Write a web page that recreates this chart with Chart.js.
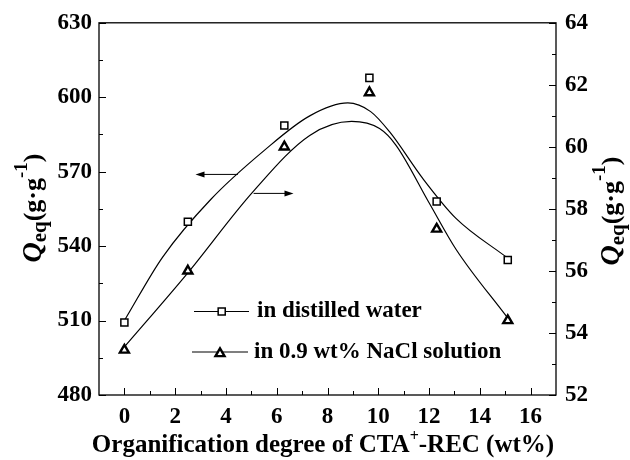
<!DOCTYPE html>
<html><head><meta charset="utf-8">
<script src="https://cdn.jsdelivr.net/npm/chart.js@4.4.0/dist/chart.umd.min.js"></script>
<style>html,body{margin:0;padding:0;background:#fff}#wrap{width:630px;height:460px;position:relative}</style>
</head><body><div id="wrap"><canvas id="c" width="630" height="460"></canvas></div>
<script>
// ---- data ----
const waterX = [0, 2.5, 6.3, 9.65, 12.3, 15.1];
const waterQ = [509.2, 549.8, 588.6, 607.8, 558.0, 534.4];
const salineX = [0, 2.5, 6.3, 9.65, 12.3, 15.1];
const salineQ = [53.45, 56.0, 60.0, 61.75, 57.35, 54.4];
// fitted curves
const waterFitX = [0, 1.5, 3.4, 5.5, 7.3, 8.8, 9.7, 10.45, 11.75, 13.05, 15.08];
const waterFitQ = [510, 535.5, 558.8, 578.5, 592.5, 597.7, 594.2, 586, 567.3, 551.3, 535.3];
const salineFitX = [0, 2.45, 5.07, 7.3, 8.95, 10.05, 10.7, 12.0, 13.06, 15.08];
const salineFitQ = [53.55, 55.89, 58.56, 60.37, 60.82, 60.59, 60.05, 58.2, 56.7, 54.5];
const xTicks = [0, 2, 4, 6, 8, 10, 12, 14, 16];
const xMinor = [1, 3, 5, 7, 9, 11, 13, 15];
const leftTicks = [480, 510, 540, 570, 600, 630];
const leftMinor = [495, 525, 555, 585, 615];
const rightTicks = [52, 54, 56, 58, 60, 62, 64];
const rightMinor = [53, 55, 57, 59, 61, 63];
const legendLabels = ['in distilled water', 'in 0.9 wt% NaCl solution'];
const xTitle = ['Organification degree of CTA', '+', '-REC (wt%)'];
// arrows: [x1, y1, x2, y2] in data units, axis id
const arrowLeft = {axis: 'y', pts: [4.47, 568.9, 2.8, 568.9]};
const arrowRight = {axis: 'y2', pts: [5.09, 58.5, 6.66, 58.5]};

const FF = '"Liberation Serif", "Times New Roman", serif';
const toPts = (xs, ys) => xs.map((v, i) => ({x: v, y: ys[i]}));

const deco = {
  id: 'deco',
  afterDraw(chart) {
    const {ctx, chartArea: a, scales} = chart;
    const {x, y, y2} = scales;
    ctx.save();
    ctx.strokeStyle = '#000';
    ctx.lineWidth = 1.3;
    ctx.strokeRect(a.left, a.top, a.right - a.left, a.bottom - a.top);
    ctx.lineWidth = 1;
    ctx.beginPath();
    const tx = (vals, len) => vals.forEach(v => { const p = Math.round(x.getPixelForValue(v)) + 0.5; ctx.moveTo(p, a.bottom); ctx.lineTo(p, a.bottom - len); });
    const tl = (vals, len) => vals.forEach(v => { const p = Math.round(y.getPixelForValue(v)) + 0.5; ctx.moveTo(a.left, p); ctx.lineTo(a.left + len, p); });
    const tr = (vals, len) => vals.forEach(v => { const p = Math.round(y2.getPixelForValue(v)) + 0.5; ctx.moveTo(a.right, p); ctx.lineTo(a.right - len, p); });
    tx(xTicks, 7); tx(xMinor, 4);
    tl(leftTicks, 7); tl(leftMinor, 4);
    tr(rightTicks, 7); tr(rightMinor, 4);
    ctx.stroke();

    // arrows
    [arrowLeft, arrowRight].forEach(ar => {
      const s = scales[ar.axis];
      const x1 = x.getPixelForValue(ar.pts[0]), y1 = s.getPixelForValue(ar.pts[1]);
      const x2 = x.getPixelForValue(ar.pts[2]), y2p = s.getPixelForValue(ar.pts[3]);
      const dir = Math.sign(x2 - x1);
      ctx.beginPath(); ctx.lineWidth = 1;
      ctx.moveTo(x1, y1); ctx.lineTo(x2 - dir * 6, y2p); ctx.stroke();
      ctx.beginPath(); ctx.fillStyle = '#000';
      ctx.moveTo(x2, y2p); ctx.lineTo(x2 - dir * 9, y2p - 3); ctx.lineTo(x2 - dir * 9, y2p + 3); ctx.closePath(); ctx.fill();
    });

    // legend
    const rows = [{y: 311.5, x1: 194, x2: 249, mx: 221.7, tx: 257, style: 'rect'},
                  {y: 352, x1: 192, x2: 248, mx: 220, tx: 254, style: 'triangle'}];
    rows.forEach((r, i) => {
      ctx.beginPath(); ctx.lineWidth = 1.2; ctx.strokeStyle = '#000';
      ctx.moveTo(r.x1, r.y); ctx.lineTo(r.x2, r.y); ctx.stroke();
      const ds = chart.data.datasets[i];
      ctx.fillStyle = '#fff'; ctx.strokeStyle = '#000'; ctx.lineWidth = ds.borderWidth;
      Chart.helpers.drawPoint(ctx, {pointStyle: r.style, radius: ds.pointRadius, borderWidth: ds.borderWidth, rotation: 0}, r.mx, r.style === 'triangle' ? r.y + 1.5 : r.y);
      ctx.fillStyle = '#000';
      ctx.font = 'bold 23px ' + FF; ctx.textBaseline = 'middle'; ctx.textAlign = 'left';
      ctx.fillText(legendLabels[i], r.tx, r.y);
    });

    // x title
    ctx.fillStyle = '#000';
    ctx.textBaseline = 'alphabetic'; ctx.textAlign = 'left';
    const f1 = 'bold 25px ' + FF, f2 = 'bold 16px ' + FF;
    ctx.font = f1; const w1 = ctx.measureText(xTitle[0]).width, w3 = ctx.measureText(xTitle[2]).width;
    ctx.font = f2; const w2 = ctx.measureText(xTitle[1]).width;
    let sx = 323 - (w1 + w2 + w3) / 2;
    const by = 452;
    ctx.font = f1; ctx.fillText(xTitle[0], sx, by); sx += w1;
    ctx.font = f2; ctx.fillText(xTitle[1], sx, by - 11); sx += w2;
    ctx.font = f1; ctx.fillText(xTitle[2], sx, by);

    // y titles
    const drawQ = (bx, cy) => {
      const parts = [
        {t: 'Q', f: 'italic bold 28px ' + FF, dy: 0},
        {t: 'eq', f: 'bold 21px ' + FF, dy: 5},
        {t: '(g\u00b7g', f: 'bold 26px ' + FF, dy: 0},
        {t: '-1', f: 'bold 19px ' + FF, dy: -14},
        {t: ')', f: 'bold 26px ' + FF, dy: 0}];
      let tot = 0;
      parts.forEach(p => { ctx.font = p.f; p.w = ctx.measureText(p.t).width; tot += p.w; });
      ctx.save();
      ctx.translate(bx, cy); ctx.rotate(-Math.PI / 2);
      let px = -tot / 2;
      parts.forEach(p => { ctx.font = p.f; ctx.fillText(p.t, px, p.dy); px += p.w; });
      ctx.restore();
    };
    drawQ(41, 208);
    drawQ(619, 211);
    ctx.restore();
  }
};

const tickFont = {family: FF, size: 23, weight: 'bold'};
new Chart(document.getElementById('c'), {
  type: 'scatter',
  data: {
    datasets: [
      {label: legendLabels[0], data: toPts(waterX, waterQ), yAxisID: 'y', pointStyle: 'rect', pointRadius: 5, borderWidth: 1.5, borderColor: '#000', backgroundColor: '#fff', showLine: false},
      {label: legendLabels[1], data: toPts(salineX, salineQ), yAxisID: 'y2', pointStyle: 'triangle', pointRadius: 5.2, borderWidth: 2.4, borderColor: '#000', backgroundColor: '#fff', showLine: false},
      {label: 'fit1', data: toPts(waterFitX, waterFitQ), yAxisID: 'y', showLine: true, pointRadius: 0, borderWidth: 1.2, borderColor: '#000', cubicInterpolationMode: 'monotone'},
      {label: 'fit2', data: toPts(salineFitX, salineFitQ), yAxisID: 'y2', showLine: true, pointRadius: 0, borderWidth: 1.2, borderColor: '#000', cubicInterpolationMode: 'monotone'}
    ]
  },
  options: {
    responsive: false, animation: false, devicePixelRatio: 1,
    layout: {padding: {top: 20, left: 0, right: 0, bottom: 0}},
    plugins: {legend: {display: false}, tooltip: {enabled: false}},
    scales: {
      x: {type: 'linear', min: -1, max: 17,
          afterBuildTicks: s => { s.ticks = xTicks.map(v => ({value: v})); },
          afterFit: s => { s.height = 65; },
          grid: {display: false, drawTicks: false}, border: {display: false},
          ticks: {font: tickFont, color: '#000', padding: 8, maxRotation: 0}},
      y: {type: 'linear', position: 'left', min: 480, max: 630,
          afterBuildTicks: s => { s.ticks = leftTicks.map(v => ({value: v})); },
          afterFit: s => { s.width = 99; },
          grid: {display: false, drawTicks: false}, border: {display: false},
          ticks: {font: tickFont, color: '#000', padding: 7}},
      y2: {type: 'linear', position: 'right', min: 52, max: 64,
          afterBuildTicks: s => { s.ticks = rightTicks.map(v => ({value: v})); },
          afterFit: s => { s.width = 74; },
          grid: {display: false, drawTicks: false}, border: {display: false},
          ticks: {font: tickFont, color: '#000', padding: 9}}
    }
  },
  plugins: [deco]
});
</script></body></html>
